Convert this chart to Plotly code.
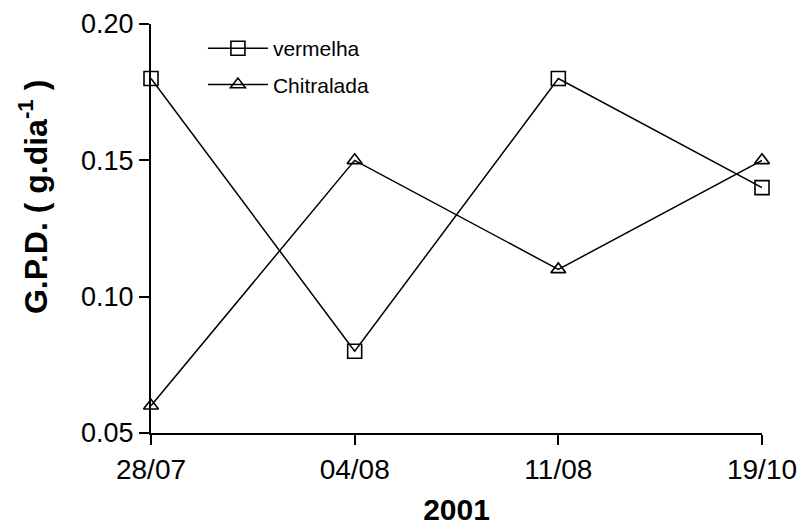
import plotly.graph_objects as go

# Sampling dates (2001) and daily weight gain per strain
dates = ["28/07", "04/08", "11/08", "19/10"]
vermelha = [0.18, 0.08, 0.18, 0.14]
chitralada = [0.06, 0.15, 0.11, 0.15]
y_ticks = [0.05, 0.10, 0.15, 0.20]

x_pos = list(range(len(dates)))
font_family = "Liberation Sans, Arial, sans-serif"

fig = go.Figure()
fig.add_trace(go.Scatter(
    x=x_pos, y=vermelha, name="vermelha", mode="lines+markers",
    line=dict(color="black", width=1.5),
    marker=dict(symbol="square-open", size=14, color="black", line=dict(width=1.6)),
    cliponaxis=False, legendgroup="a",
))
fig.add_trace(go.Scatter(
    x=x_pos, y=chitralada, name="Chitralada", mode="lines+markers",
    line=dict(color="black", width=1.5),
    marker=dict(symbol="triangle-up-open", size=13, color="black", line=dict(width=1.6)),
    cliponaxis=False, legendgroup="b",
))

# Y-axis title placed as a rotated annotation
fig.add_annotation(
    text="<b>G.P.D. ( g.dia<sup>-1</sup> )</b>",
    xref="paper", yref="paper", x=-0.193, y=0.577,
    xanchor="center", yanchor="middle", textangle=-90, showarrow=False,
    font=dict(size=32, family=font_family, color="black"),
)

fig.update_layout(
    width=801, height=526,
    margin=dict(l=151, r=39, t=24, b=93),
    paper_bgcolor="white", plot_bgcolor="white",
    font=dict(family=font_family, color="black"),
    legend=dict(x=0.085, y=0.99, xanchor="left", yanchor="top",
                font=dict(size=21, family=font_family), bgcolor="rgba(0,0,0,0)",
                tracegroupgap=6, itemwidth=60),
    xaxis=dict(
        range=[0, 3], tickvals=x_pos, ticktext=dates, automargin=False,
        showline=True, linecolor="black", linewidth=2,
        ticks="outside", ticklen=10, tickwidth=2, tickcolor="black",
        showgrid=False, zeroline=False,
        tickfont=dict(size=28),
        title=dict(text="<b>2001</b>", font=dict(size=30), standoff=18),
    ),
    yaxis=dict(
        range=[0.05, 0.20], tickvals=y_ticks, tickformat=".2f", automargin=False,
        showline=True, linecolor="black", linewidth=2,
        ticks="outside", ticklen=10, tickwidth=2, tickcolor="black",
        showgrid=False, zeroline=False,
        tickfont=dict(size=27),
    ),
)

fig.write_html("out.html")
